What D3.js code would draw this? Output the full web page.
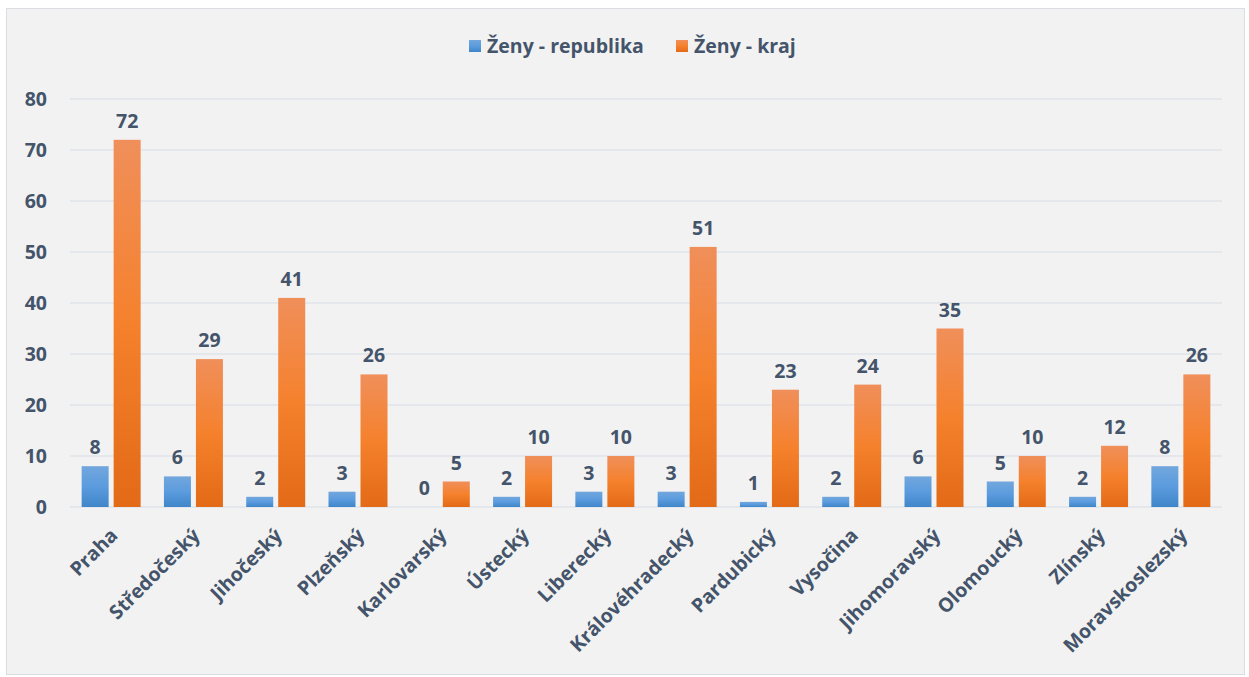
<!DOCTYPE html>
<html>
<head>
<meta charset="utf-8">
<script src="https://cdn.jsdelivr.net/npm/d3@7"></script>
<style>
  body { margin: 0; background: #ffffff; }
  text { font-family: "Open Sans", Calibri, sans-serif; font-weight: bold; fill: #44546a; }
</style>
</head>
<body>
<div id="container"></div>
<script>
const regions = ["Praha", "Středočeský", "Jihočeský", "Plzeňský", "Karlovarský", "Ústecký", "Liberecký",
  "Královéhradecký", "Pardubický", "Vysočina", "Jihomoravský", "Olomoucký", "Zlínský", "Moravskoslezský"];
const republika = [8, 6, 2, 3, 0, 2, 3, 3, 1, 2, 6, 5, 2, 8];
const kraj = [72, 29, 41, 26, 5, 10, 10, 51, 23, 24, 35, 10, 12, 26];
const seriesNames = ["Ženy - republika", "Ženy - kraj"];
const yTicks = [0, 10, 20, 30, 40, 50, 60, 70, 80];

const W = 1249, H = 677;
const margin = {top: 99, left: 70, right: 27, bottom: 170};
const width = W - margin.left - margin.right,
  height = H - margin.top - margin.bottom;
const fs = 19.5;

const svg = d3.select("#container").append("svg")
  .attr("width", W).attr("height", H);

const defs = svg.append("defs");
function grad(id, stops) {
  const g = defs.append("linearGradient").attr("id", id)
    .attr("x1", 0).attr("y1", 0).attr("x2", 0).attr("y2", 1);
  stops.forEach(s => g.append("stop").attr("offset", s[0]).attr("stop-color", s[1]));
}
grad("gBlue", [[0, "#72a7dd"], [0.5, "#5b9bde"], [1, "#3f86c8"]]);
grad("gOrange", [[0, "#f08f5a"], [0.5, "#f5812d"], [1, "#e36a16"]]);
const fills = ["url(#gBlue)", "url(#gOrange)"];

// background + frame
svg.append("rect").attr("x", 6.5).attr("y", 8.5).attr("width", 1238).attr("height", 666)
  .attr("fill", "#f2f2f2").attr("stroke", "#dadde2");

const plot = svg.append("g").attr("transform", "translate(" + margin.left + "," + margin.top + ")");

const x = d3.scaleBand().domain(regions).range([0, width]);
const y = d3.scaleLinear().domain([0, 80]).range([height, 0]);

// grid
plot.append("g").selectAll("line").data(yTicks).enter().append("line")
  .attr("x1", 0).attr("x2", width)
  .attr("y1", d => y(d)).attr("y2", d => y(d))
  .attr("stroke", "#dfe3e8").attr("stroke-width", 1.5);

// y axis labels
const yAxis = d3.axisLeft(y).tickValues(yTicks).tickSize(0).tickPadding(23);
const yg = plot.append("g").call(yAxis);
yg.select(".domain").remove();
yg.selectAll("text").attr("font-size", fs).attr("fill", "#44546a")
  .style("font-family", "'Open Sans', sans-serif").style("font-weight", "bold");

const barW = 27, gap = 5;
const series = [republika, kraj];
series.forEach((vals, s) => {
  const off = s === 0 ? -gap / 2 - barW : gap / 2;
  const g = plot.append("g");
  g.selectAll("rect").data(vals).enter().append("rect")
    .attr("x", (d, i) => x(regions[i]) + x.bandwidth() / 2 + off)
    .attr("y", d => y(d))
    .attr("width", barW)
    .attr("height", d => height - y(d))
    .attr("fill", fills[s]);
  g.selectAll("text").data(vals).enter().append("text")
    .attr("x", (d, i) => x(regions[i]) + x.bandwidth() / 2 + off + barW / 2)
    .attr("y", d => y(d) - 12)
    .attr("text-anchor", "middle")
    .attr("font-size", fs)
    .text(d => d);
});

// x axis labels
const xg = plot.append("g").attr("transform", "translate(0," + height + ")");
xg.selectAll("text").data(regions).enter().append("text")
  .attr("transform", d => "translate(" + (x(d) + x.bandwidth() / 2 - 2) + ",20) rotate(-45)")
  .attr("text-anchor", "end")
  .attr("dy", "0.7em")
  .attr("font-size", fs)
  .text(d => d);

// legend
const legend = svg.append("g").attr("transform", "translate(469,40)");
const lx = [0, 207];
seriesNames.forEach((n, i) => {
  legend.append("rect").attr("x", lx[i]).attr("y", 0).attr("width", 12).attr("height", 12)
    .attr("fill", fills[i]);
  legend.append("text").attr("x", lx[i] + 18).attr("y", 13)
    .attr("font-size", fs).text(n);
});
</script>
</body>
</html>
